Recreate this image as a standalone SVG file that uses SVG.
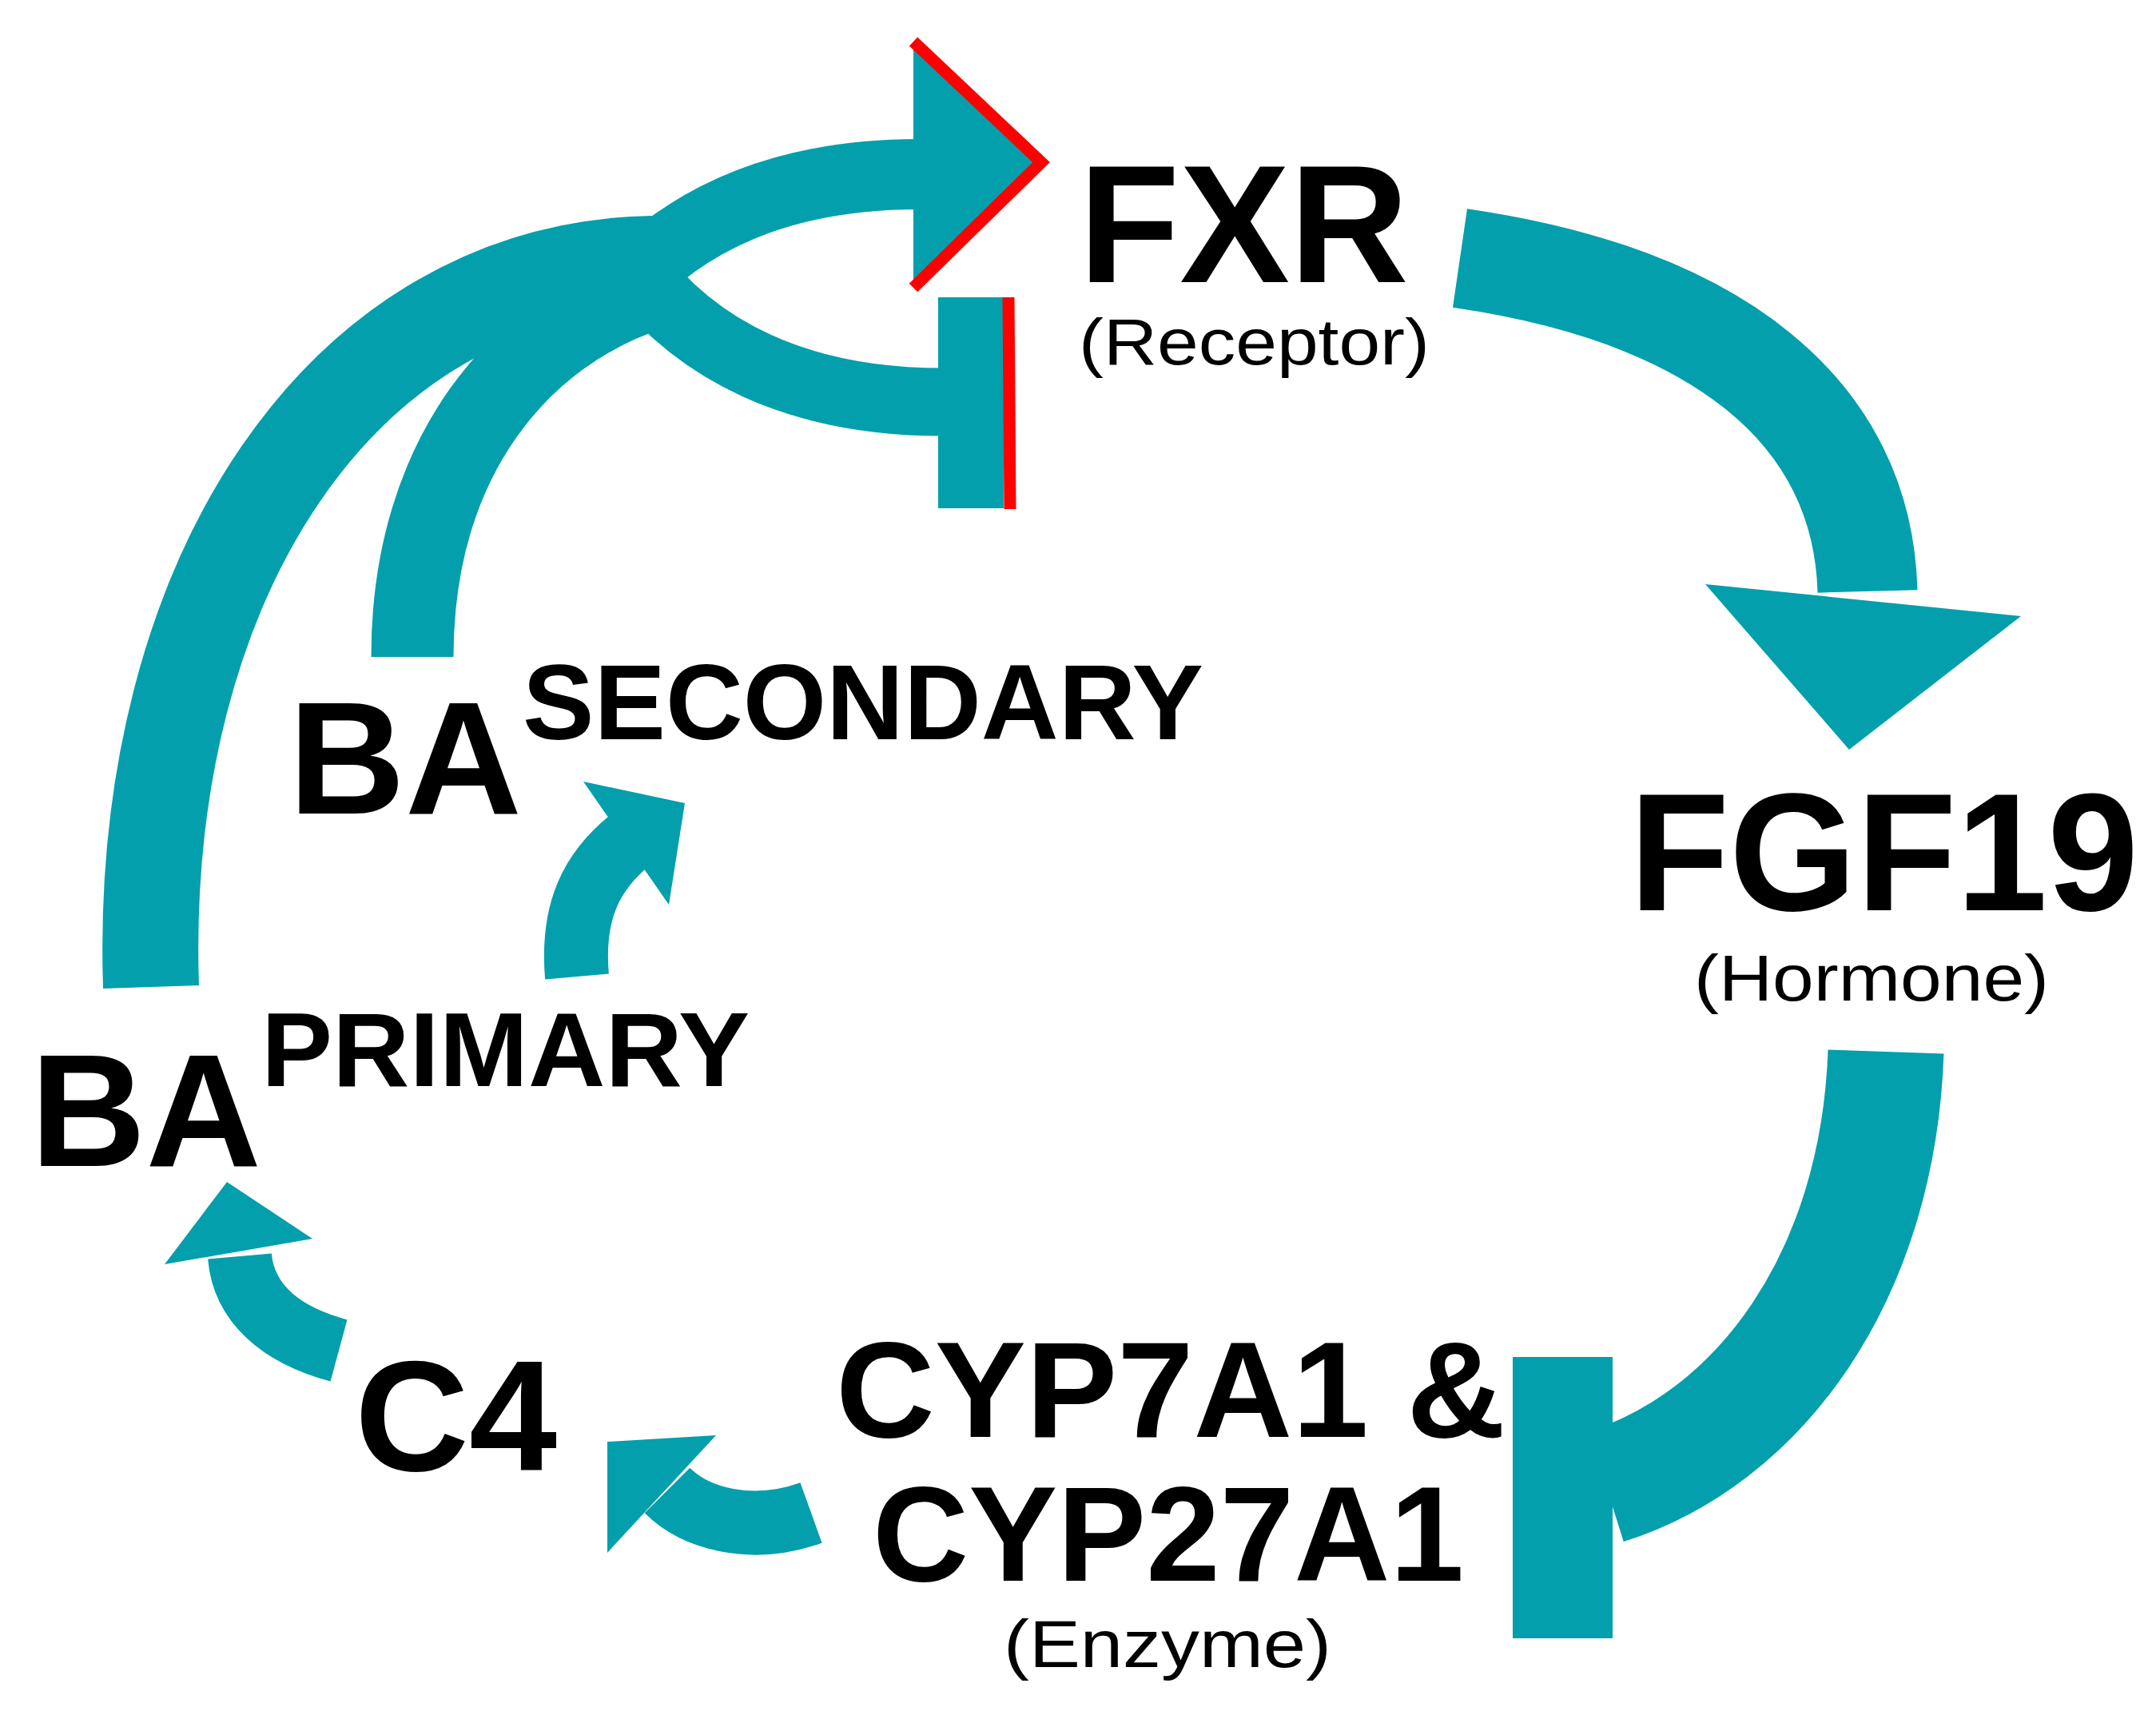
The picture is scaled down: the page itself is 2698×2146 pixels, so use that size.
<svg xmlns="http://www.w3.org/2000/svg" width="2698" height="2146" viewBox="0 0 2698 2146">
<style>
.s{fill:none;stroke:#039fac}
.f{fill:#039fac}
.r{fill:none;stroke:#ff0000;stroke-width:15}
.b{font-family:"Liberation Sans",Arial,Helvetica,sans-serif;font-weight:bold;fill:#000}
.n{font-family:"Liberation Sans",Arial,Helvetica,sans-serif;fill:#000}
</style>
<rect width="2698" height="2146" fill="#fff"/>
<g id="connectors">
<path class="s" stroke-width="120" d="M189,1235 C172,723 430,336 817,330"/>
<path class="s" stroke-width="103" d="M516,822 C516,568 654,413 817,361"/>
<path class="s" stroke-width="88" d="M790,350 C880,260 1000,218 1150,218"/>
<polygon class="f" points="1143,60 1300,203 1143,355"/>
<polyline class="r" points="1143,52 1303,203 1143,360"/>
<path class="s" stroke-width="85" d="M790,330 C870,440 1000,503 1180,503"/>
<rect class="f" x="1174" y="372" width="82" height="264"/>
<line class="r" x1="1262" y1="372" x2="1264" y2="637"/>
<path class="s" stroke-width="125" d="M1827,323 C2150,370 2331,516 2337,740"/>
<polygon class="f" points="2134,731 2529,771 2314,938"/>
<path class="s" stroke-width="145" d="M2360,1316 C2350,1600 2200,1800 2010,1860"/>
<rect class="f" x="1893" y="1698" width="125" height="352"/>
<path class="s" stroke-width="80" d="M1015,1893 C940,1920 870,1900 835,1865"/>
<polygon class="f" points="760,1804 896,1796 760,1943"/>
<path class="s" stroke-width="80" d="M424,1690 C350,1670 305,1630 300,1572"/>
<polygon class="f" points="284,1479 391,1550 206,1582"/>
<path class="s" stroke-width="80" d="M722,1222 C715,1140 740,1090 790,1050"/>
<polygon class="f" points="730,978 857,1005 837,1132"/>
</g>
<g id="fxr"><text class="b" x="1350" y="353" font-size="210" textLength="413" lengthAdjust="spacingAndGlyphs">FXR</text>
<text class="n" x="1350" y="456" font-size="82" textLength="439" lengthAdjust="spacingAndGlyphs">(Receptor)</text></g>
<g id="fgf19"><text class="b" x="2039" y="1139" font-size="210" textLength="637" lengthAdjust="spacingAndGlyphs">FGF19</text>
<text class="n" x="2120" y="1252" font-size="82" textLength="444" lengthAdjust="spacingAndGlyphs">(Hormone)</text></g>
<g id="cyp"><text class="b" x="1046" y="1798" font-size="171" textLength="838" lengthAdjust="spacingAndGlyphs">CYP7A1 &amp;</text>
<text class="b" x="1092" y="1978" font-size="168" textLength="740" lengthAdjust="spacingAndGlyphs">CYP27A1</text>
<text class="n" x="1256" y="2086" font-size="84" textLength="410" lengthAdjust="spacingAndGlyphs">(Enzyme)</text></g>
<g id="c4"><text class="b" x="444" y="1840" font-size="196" textLength="253" lengthAdjust="spacingAndGlyphs">C4</text></g>
<g id="baprimary"><text class="b" x="38" y="1459" font-size="200" textLength="289" lengthAdjust="spacingAndGlyphs">BA</text>
<text class="b" x="327" y="1359" font-size="132" textLength="611" lengthAdjust="spacingAndGlyphs">PRIMARY</text></g>
<g id="basecondary"><text class="b" x="361" y="1018" font-size="200" textLength="292" lengthAdjust="spacingAndGlyphs">BA</text>
<text class="b" x="654" y="925" font-size="133" textLength="852" lengthAdjust="spacingAndGlyphs">SECONDARY</text></g>
</svg>
